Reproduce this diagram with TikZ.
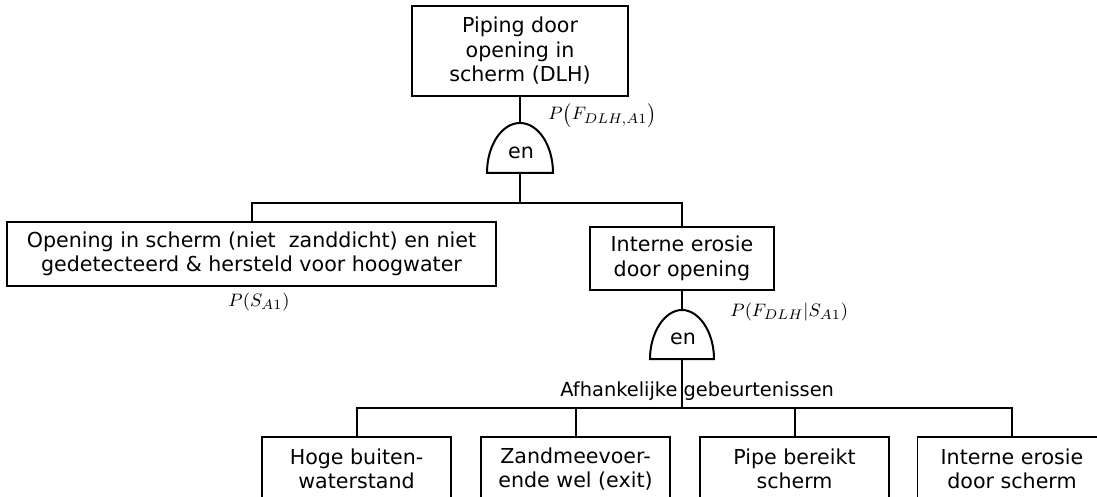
\documentclass[tikz,border=0pt]{standalone}
\usepackage[no-math]{fontspec}
\setmainfont{DejaVu Sans}
\newcommand{\evtfont}{\fontsize{10.3}{12.25}\selectfont}
\newcommand{\lblfont}{\fontsize{9.7}{12}\selectfont}
\newcommand{\probfont}{\fontsize{9.3}{11}\selectfont}
\begin{document}
\begin{tikzpicture}[x=0.5pt,y=-0.5pt,
  box/.style={draw, line width=0.7pt, align=center, inner sep=0pt, font=\evtfont},
  wire/.style={line width=1pt, line join=miter},
  andgate/.style={draw, line width=1pt},
  prob/.style={inner sep=0pt, font=\probfont},
  gatelabel/.style={inner sep=0pt, font=\evtfont}]
\useasboundingbox (0,0) rectangle (1097,497);
\clip (0,0) rectangle (1097,497);

% events
\node[box, minimum width=108pt, minimum height=45pt] (top) at (520,51)
  {Piping door\\opening in\\scherm (DLH)};
\node[box, minimum width=244.5pt, minimum height=32pt] (left) at (251.5,254)
  {Opening in scherm (niet\ \ zanddicht) en niet\\gedetecteerd \& hersteld voor hoogwater};
\node[box, minimum width=92pt, minimum height=31.5pt] (right) at (682,258.5)
  {Interne erosie\\door opening};
\node[box, minimum width=94.5pt, minimum height=32pt] (b1) at (356.5,469)
  {Hoge buiten-\\waterstand};
\node[box, minimum width=94.5pt, minimum height=32pt] (b2) at (575.5,469)
  {Zandmeevoer-\\ende wel (exit)};
\node[box, minimum width=94.5pt, minimum height=32pt] (b3) at (794.5,469)
  {Pipe bereikt\\scherm};
\node[box, minimum width=94.5pt, minimum height=32pt] (b4) at (1012,469)
  {Interne erosie\\door scherm};

% AND gates
\coordinate (g1bot) at (520,173);
\coordinate (g1top) at (520,123);
\draw[andgate] (487,173) .. controls (487,145) and (502,123) .. (g1top)
  .. controls (538,123) and (553,145) .. (553,173) -- cycle;
\node[gatelabel] (g1) at (521,153) {en};

\coordinate (g2bot) at (682,359);
\coordinate (g2top) at (682,310);
\draw[andgate] (650,359) .. controls (650,332) and (665,310) .. (g2top)
  .. controls (699,310) and (714,332) .. (714,359) -- cycle;
\node[gatelabel] (g2) at (683,339) {en};

% probabilities
\node[prob, anchor=west] (p1) at (548,115) {$P\bigl(F_{DLH,A1}\bigr)$};
\node[prob] (p2) at (259,302) {$P(S_{A1})$};
\node[prob, anchor=west] (p3) at (730,312) {$P(F_{DLH}|S_{A1})$};
\node[inner sep=0pt, font=\lblfont, anchor=base west] (dep) at (560,396)
  {Afhankelijke gebeurtenissen};

% connectors
\coordinate (j1) at (520,203);
\coordinate (j2) at (682,408);
\draw[wire] (top.south) -- (g1top);
\draw[wire] (g1bot) -- (j1);
\draw[wire] (left.north) |- (j1) -| (right.north);
\draw[wire] (right.south) -- (g2top);
\draw[wire] (g2bot) -- (j2);
\draw[wire] (b1.north) |- (j2) -| (b4.north);
\draw[wire] (b2.north) -- (b2.north |- j2);
\draw[wire] (b3.north) -- (b3.north |- j2);
\end{tikzpicture}
\end{document}
